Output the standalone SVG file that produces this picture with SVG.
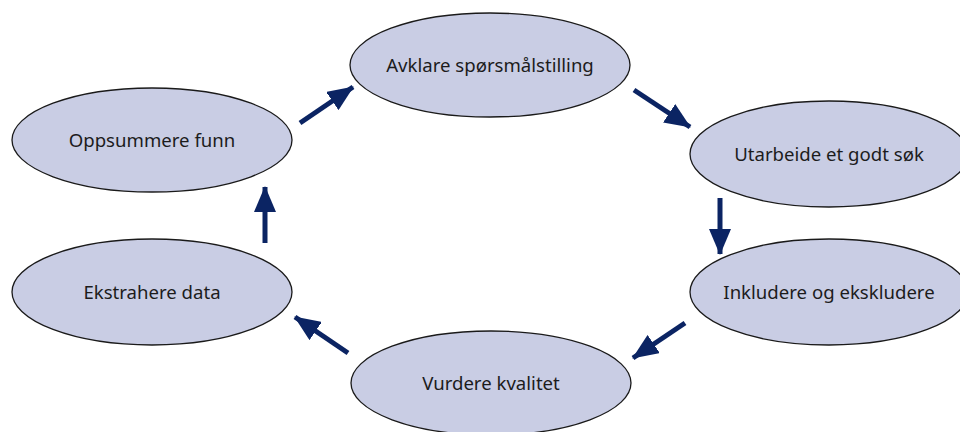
<svg xmlns="http://www.w3.org/2000/svg" width="960" height="432" viewBox="0 0 960 432">
<style>
.node ellipse{fill:#c9cde4;stroke:#1a1a1a;stroke-width:1.3}
.node text{font-family:"Noto Sans","Liberation Sans",sans-serif;font-size:18.6px;fill:#1c1c1c;text-anchor:middle;dominant-baseline:central}
.conn line{stroke:#0b2463;stroke-width:5}
</style>
<defs>
<marker id="ah" markerUnits="userSpaceOnUse" markerWidth="26" markerHeight="22" refX="25" refY="11" orient="auto" viewBox="0 0 26 22">
<path d="M0,0 L26,11 L0,22 z" fill="#0b2463"/>
</marker>
</defs>
<rect width="960" height="432" fill="#fff"/>
<g id="n1" class="node"><ellipse cx="490" cy="65" rx="140" ry="52"/><text x="490" y="64">Avklare spørsmålstilling</text></g>
<g id="n2" class="node"><ellipse cx="829" cy="154" rx="139" ry="53"/><text x="829" y="153">Utarbeide et godt søk</text></g>
<g id="n3" class="node"><ellipse cx="829" cy="292" rx="139" ry="53"/><text x="829" y="291">Inkludere og ekskludere</text></g>
<g id="n4" class="node"><ellipse cx="491" cy="383" rx="140" ry="52"/><text x="491" y="382">Vurdere kvalitet</text></g>
<g id="n5" class="node"><ellipse cx="152" cy="140" rx="140" ry="52"/><text x="152" y="139">Oppsummere funn</text></g>
<g id="n6" class="node"><ellipse cx="152" cy="292" rx="140" ry="53"/><text x="152" y="291">Ekstrahere data</text></g>
<g id="connectors" class="conn">
<line x1="300" y1="123" x2="353" y2="87" marker-end="url(#ah)"/>
<line x1="634" y1="90" x2="690" y2="127" marker-end="url(#ah)"/>
<line x1="720" y1="198" x2="720" y2="254" marker-end="url(#ah)"/>
<line x1="685" y1="323" x2="633" y2="358" marker-end="url(#ah)"/>
<line x1="348" y1="353" x2="295" y2="317" marker-end="url(#ah)"/>
<line x1="265" y1="243" x2="265" y2="187" marker-end="url(#ah)"/>
</g>
</svg>
